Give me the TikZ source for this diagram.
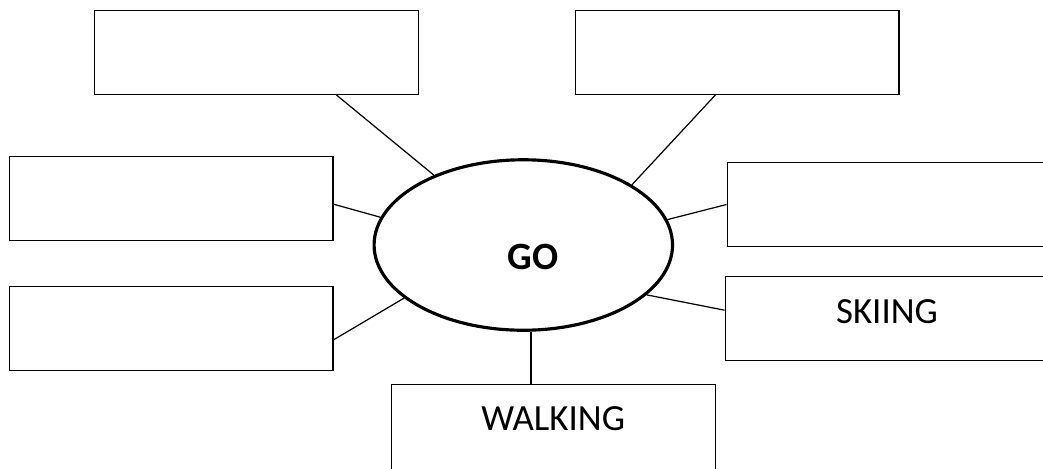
\documentclass[tikz,border=0pt]{standalone}
\usepackage{fontspec}
\setmainfont{Carlito}
\usetikzlibrary{shapes.geometric}

\tikzset{
    box/.style={draw, line width=0.6pt, rectangle, minimum width=6.48cm, minimum height=1.68cm,
        inner sep=0pt, text height=0.47cm, text depth=0.28cm,
        font=\fontsize{21}{25}\selectfont},
    hub/.style={draw, line width=1.8pt, ellipse, minimum width=5.97cm, minimum height=3.41cm,
        inner sep=0pt},
    link/.style={line width=0.7pt}
}

\begin{document}
\begin{tikzpicture}[x=0.02cm, y=-0.02cm]
        \useasboundingbox (0,0) rectangle (1043,468);
        \node (go) [hub, label={[xshift=0.19cm, yshift=-0.23cm, font=\fontsize{22}{26}\selectfont\bfseries]center:GO}] at (523.3,245) {};
        \node (tl) [box] at (256.5,52.5)  {};
        \node (tr) [box] at (737,52.5)    {};
        \node (lm) [box] at (171,198.5)   {};
        \node (ll) [box] at (171,328.5)   {};
        \node (rm) [box] at (889,204.5)   {};
        \node (sk) [box] at (887,318.7)   {SKIING};
        \node (wk) [box, minimum height=1.9cm, text depth=0.52cm] at (553.2,432.2) {WALKING};
        \draw[link] (tl.-28.8)  -- (go.142.9);
        \draw[link] (tr.-117.5) -- (go.29.8);
        \draw[link] (lm.-2.8)   -- (go.169.8);
        \draw[link] (ll.-4)     -- (go.-156.2);
        \draw[link] (rm.180.5)  -- (go.10.1);
        \draw[link] (sk.177.7)  -- (go.-22.6);
        \draw[link] (go.-85)    -- (go.-85 |- wk.north);
    \end{tikzpicture}
\end{document}
